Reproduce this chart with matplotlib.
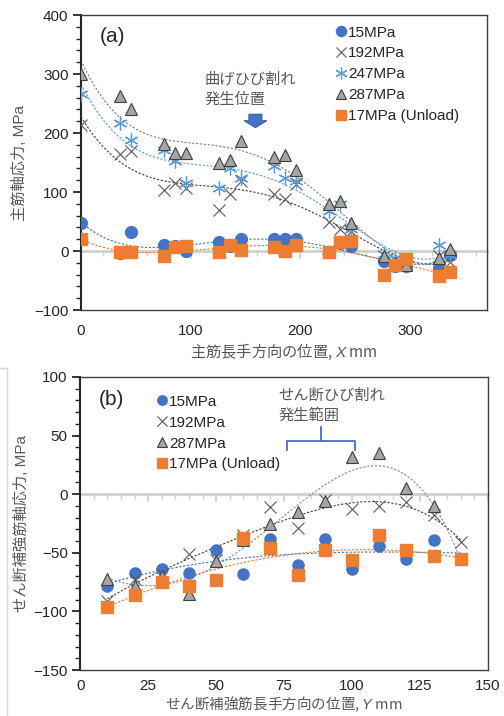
import numpy as np
import matplotlib
matplotlib.use("Agg")
import matplotlib.pyplot as plt
from matplotlib.ticker import MultipleLocator, NullFormatter
from matplotlib.patches import FancyArrow
from matplotlib.lines import Line2D

plt.rcParams['font.family'] = ['Liberation Sans', 'Noto Sans CJK JP']
plt.rcParams['mathtext.fontset'] = 'custom'
plt.rcParams['mathtext.it'] = 'Liberation Sans:italic'
plt.rcParams['mathtext.rm'] = 'Liberation Sans'

# ---- panel (a) data: main bar, position X (mm) ----
xa = [0, 36, 46, 76, 86, 96, 126, 136, 146, 176, 186, 196,
      226, 236, 246, 276, 286, 296, 326, 336]
a_15 = [47, -3, 33, 11, 8, 0, 15, 8, 21, 20, 21, 20,
        -2, 13, 8, -17, -25, -25, -28, -6]
a_192 = [213, 165, 169, 103, 116, 107, 69, 96, 119, 96, 89, 113,
         49, 38, 34, -8, -16, -24, -8, -19]
a_247 = [267, 217, 189, 172, 152, 116, 106, 141, 123, 144, 124, 119,
         68, 80, 37, -5, -11, -25, 11, -6]
a_287 = [300, 263, 240, 182, 167, 166, 150, 154, 186, 160, 162, 137,
         79, 85, 48, -8, -20, -24, -11, 3]
a_17 = [20, -1, -2, -8, 7, 8, -2, 11, 1, 7, 0, 11,
        -2, 15, 17, -41, -23, -14, -42, -35]

# ---- panel (b) data: shear reinforcement, position Y (mm) ----
yb = [10, 20, 30, 40, 50, 60, 70, 80, 90, 100, 110, 120, 130, 140]
b_15 = [-78, -67, -64, -67, -48, -68, -38, -60, -38, -64, -44, -55, -39, -55]
b_192 = [-91, -72, -68, -51, -56, -35, -11, -29, -5, -13, -10, -7, -18, -41]
b_287 = [-72, -78, -70, -85, -57, -39, -25, -15, -6, 32, 35, 5, -10, -55]
b_17 = [-96, -86, -75, -78, -73, -37, -46, -69, -48, -56, -35, -48, -53, -55]

BLUE = '#4472C4'
ORANGE = '#ED7D31'
GRAY = '#A5A5A5'
LBLUE = '#5B9BD5'
DARK = '#595959'
TXT = '#595959'
JP = ['Noto Sans CJK JP']

fig = plt.figure(figsize=(5.04, 7.16), dpi=100)
axa = fig.add_axes([0.1607, 0.567, 0.8053, 0.412])
axb = fig.add_axes([0.159, 0.0642, 0.8093, 0.4093])


def trend(ax, x, y, deg, color):
    p = np.polyfit(x, y, deg)
    xx = np.linspace(min(x), max(x), 200)
    ax.plot(xx, np.polyval(p, xx), ls=(0, (2, 1.5)), lw=0.8, color=color, zorder=2)


def style(ax, xlim, ylim, xmaj, xmin, ymaj, ymin, xpad):
    ax.set_xlim(*xlim)
    ax.set_ylim(*ylim)
    for s in ax.spines.values():
        s.set_color('#404040')
        s.set_linewidth(1.0)
    ax.spines['left'].set_linewidth(1.5)
    ax.spines['left'].set_color('#262626')
    ax.yaxis.set_major_locator(MultipleLocator(ymaj))
    ax.yaxis.set_minor_locator(MultipleLocator(ymin))
    ax.xaxis.set_major_locator(MultipleLocator(xmaj))
    ax.tick_params(axis='y', which='major', length=6, width=1.3, color='#262626',
                   labelsize=11, labelcolor='#262626', pad=3)
    ax.tick_params(axis='y', which='minor', length=3.5, width=1.0, color='#262626')
    ax.tick_params(axis='x', which='both', length=0, labelsize=11,
                   labelcolor='#262626', pad=xpad)
    # zero axis line with ticks
    frac = (0 - ylim[0]) / (ylim[1] - ylim[0])
    sec = ax.secondary_xaxis(frac)
    for side in ('top', 'bottom'):
        sec.spines[side].set_color('#D0D0D0')
        sec.spines[side].set_linewidth(2.0)
    sec.xaxis.set_ticks_position('bottom')
    sec.xaxis.set_major_locator(MultipleLocator(xmaj))
    sec.xaxis.set_minor_locator(MultipleLocator(xmin))
    sec.xaxis.set_major_formatter(NullFormatter())
    sec.tick_params(which='major', direction='out', length=6, width=1.2,
                    color='#D0D0D0', labelbottom=False, labeltop=False)
    sec.tick_params(which='minor', direction='out', length=3.5, width=1.0,
                    color='#D0D0D0')


# ---------------- panel (a) ----------------
style(axa, (0, 370), (-100, 400), 100, 20, 100, 20, 10)
for y, c in [(a_15, BLUE), (a_192, '#404040'), (a_247, LBLUE), (a_287, '#7F7F7F'), (a_17, ORANGE)]:
    trend(axa, xa, y, 4, c)

axa.plot(xa, a_15, 'o', ms=8.5, color=BLUE, mec=BLUE, label='15MPa', zorder=3)
axa.plot(xa, a_192, 'x', ms=9, mew=0.8, color=DARK, label='192MPa', zorder=3)
axa.plot(xa, a_247, ls='none', marker=(6, 2, 0), ms=10, mew=0.9, color=LBLUE,
         label='247MPa', zorder=3)
axa.plot(xa, a_287, '^', ms=8.5, color=GRAY, mec='#404040', mew=0.8,
         label='287MPa', zorder=3)
axa.plot(xa, a_17, 's', ms=8, color=ORANGE, mec=ORANGE, label='17MPa (Unload)', zorder=3)

leg = axa.legend(loc='upper left', bbox_to_anchor=(0.615, 0.985), frameon=False,
                 fontsize=11, handlelength=0.6, handletextpad=0.15,
                 labelspacing=0.45, borderaxespad=0, markerscale=0.85)
for t in leg.get_texts():
    t.set_color('#262626')

axa.text(0.045, 0.96, '(a)', transform=axa.transAxes, fontsize=15,
         ha='left', va='top', color='#262626')
axa.text(0.305, 0.81, '曲げひび割れ\n発生位置', transform=axa.transAxes,
         fontsize=11, ha='left', va='top', color=TXT, family=JP, linespacing=1.2)
axa.add_patch(FancyArrow(159, 232, 0, -23, width=12, head_width=21,
                         head_length=12, length_includes_head=True,
                         facecolor=BLUE, edgecolor='#2F5597', lw=0.6, zorder=4))

axa.set_ylabel('主筋軸応力, MPa', fontsize=11, color=TXT, labelpad=5)
axa.set_xlabel('主筋長手方向の位置, $X$ mm', fontsize=11, color=TXT, family=JP,
               labelpad=3)

# ---------------- panel (b) ----------------
style(axb, (0, 150), (-150, 100), 25, 5, 50, 10, 6.5)
trend(axb, yb, b_15, 3, BLUE)
trend(axb, yb, b_192, 4, '#404040')
trend(axb, yb, b_287, 4, '#7F8CA0')
trend(axb, yb, b_17, 3, ORANGE)

axb.plot(yb, b_15, 'o', ms=8, color=BLUE, mec=BLUE, label='15MPa', zorder=3)
axb.plot(yb, b_192, 'x', ms=9, mew=0.8, color=DARK, label='192MPa', zorder=3)
axb.plot(yb, b_287, '^', ms=8.5, color=GRAY, mec='#404040', mew=0.8,
         label='287MPa', zorder=3)
axb.plot(yb, b_17, 's', ms=9, color=ORANGE, mec=ORANGE, label='17MPa (Unload)', zorder=3)

leg = axb.legend(loc='upper left', bbox_to_anchor=(0.175, 0.96), frameon=False,
                 fontsize=11, handlelength=0.6, handletextpad=0.15,
                 labelspacing=0.45, borderaxespad=0, markerscale=0.85)
for t in leg.get_texts():
    t.set_color('#262626')

axb.text(0.045, 0.955, '(b)', transform=axb.transAxes, fontsize=15,
         ha='left', va='top', color='#262626')
axb.text(0.487, 0.965, 'せん断ひび割れ\n発生範囲', transform=axb.transAxes,
         fontsize=11, ha='left', va='top', color=TXT, family=JP, linespacing=1.2)
# bracket for crack range
axb.plot([76, 76, 101, 101], [38, 45, 45, 38], color=BLUE, lw=1.3, zorder=4)
axb.plot([88.5, 88.5], [45, 57], color=BLUE, lw=1.3, zorder=4)

axb.set_ylabel('せん断補強筋軸応力, MPa', fontsize=11, color=TXT, labelpad=3)
axb.set_xlabel('せん断補強筋長手方向の位置, $Y$ mm', fontsize=10.5, color=TXT,
               family=JP, va='center')
axb.xaxis.set_label_coords(0.5, -0.118)

# faint frame edge at left of lower panel
fig.add_artist(Line2D([7 / 504, 7 / 504], [0, 1 - 368 / 716], color='#D9D9D9', lw=1.0))
fig.add_artist(Line2D([0, 7 / 504], [1 - 368 / 716, 1 - 368 / 716], color='#D9D9D9', lw=1.0))

fig.savefig('out.png', dpi=100)
